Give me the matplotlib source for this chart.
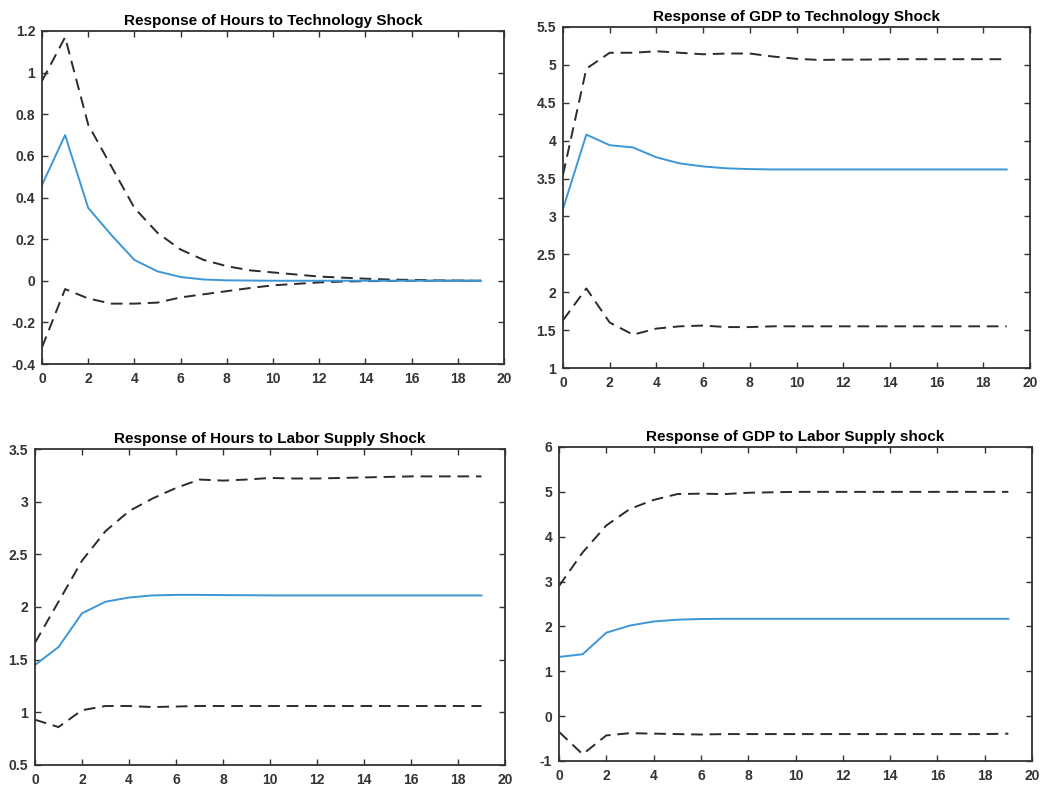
import matplotlib.pyplot as plt
import numpy as np

plt.rcParams["font.family"] = ["Liberation Sans", "DejaVu Sans"]

periods = np.arange(20)

hours_tech_mid = [0.46, 0.70, 0.35, 0.22, 0.10, 0.045, 0.018, 0.006, 0.002, 0.001,
                  0.0, 0.0, 0.0, 0.0, 0.0, 0.0, 0.0, 0.0, 0.0, 0.0]
hours_tech_hi = [0.96, 1.17, 0.75, 0.55, 0.35, 0.23, 0.15, 0.10, 0.07, 0.05,
                 0.04, 0.03, 0.02, 0.015, 0.01, 0.006, 0.004, 0.002, 0.001, 0.0]
hours_tech_lo = [-0.32, -0.04, -0.085, -0.11, -0.11, -0.105, -0.08, -0.065, -0.05, -0.035,
                 -0.022, -0.015, -0.008, -0.004, -0.002, -0.001, 0.0, 0.0, 0.0, 0.0]

gdp_tech_mid = [3.10, 4.08, 3.94, 3.91, 3.78, 3.70, 3.66, 3.635, 3.625, 3.62,
                3.62, 3.62, 3.62, 3.62, 3.62, 3.62, 3.62, 3.62, 3.62, 3.62]
gdp_tech_hi = [3.55, 4.95, 5.16, 5.16, 5.18, 5.16, 5.14, 5.15, 5.15, 5.11,
               5.08, 5.065, 5.07, 5.07, 5.075, 5.075, 5.075, 5.075, 5.075, 5.075]
gdp_tech_lo = [1.63, 2.05, 1.60, 1.44, 1.52, 1.55, 1.56, 1.54, 1.54, 1.55,
               1.55, 1.55, 1.55, 1.55, 1.55, 1.55, 1.55, 1.55, 1.55, 1.55]

hours_labor_mid = [1.45, 1.62, 1.94, 2.05, 2.09, 2.11, 2.115, 2.115, 2.113, 2.112,
                   2.11, 2.11, 2.11, 2.11, 2.11, 2.11, 2.11, 2.11, 2.11, 2.11]
hours_labor_hi = [1.66, 2.05, 2.44, 2.72, 2.91, 3.03, 3.13, 3.21, 3.20, 3.21,
                  3.225, 3.22, 3.22, 3.225, 3.23, 3.235, 3.24, 3.24, 3.24, 3.24]
hours_labor_lo = [0.93, 0.86, 1.02, 1.06, 1.06, 1.05, 1.055, 1.06, 1.06, 1.06,
                  1.06, 1.06, 1.06, 1.06, 1.06, 1.06, 1.06, 1.06, 1.06, 1.06]

gdp_labor_mid = [1.32, 1.38, 1.86, 2.02, 2.11, 2.15, 2.165, 2.17, 2.17, 2.17,
                 2.17, 2.17, 2.17, 2.17, 2.17, 2.17, 2.17, 2.17, 2.17, 2.17]
gdp_labor_hi = [2.90, 3.65, 4.25, 4.62, 4.82, 4.95, 4.96, 4.95, 4.98, 4.99,
                5.0, 5.0, 5.0, 5.0, 5.0, 5.0, 5.0, 5.0, 5.0, 5.0]
gdp_labor_lo = [-0.35, -0.85, -0.43, -0.38, -0.39, -0.40, -0.41, -0.40, -0.40, -0.40,
                -0.40, -0.40, -0.40, -0.40, -0.40, -0.40, -0.40, -0.40, -0.40, -0.39]

panels = [
    ("Response of Hours to Technology Shock", hours_tech_mid, hours_tech_hi, hours_tech_lo,
     (-0.4, 1.2), np.arange(-0.4, 1.21, 0.2), [42, 31, 504, 364]),
    ("Response of GDP to Technology Shock", gdp_tech_mid, gdp_tech_hi, gdp_tech_lo,
     (1, 5.5), np.arange(1, 5.51, 0.5), [563, 27, 1030, 368]),
    ("Response of Hours to Labor Supply Shock", hours_labor_mid, hours_labor_hi, hours_labor_lo,
     (0.5, 3.5), np.arange(0.5, 3.51, 0.5), [35, 449, 505, 765]),
    ("Response of GDP to Labor Supply shock", gdp_labor_mid, gdp_labor_hi, gdp_labor_lo,
     (-1, 6), np.arange(-1, 6.1, 1), [559, 447, 1032, 761]),
]

W, H = 1044, 787
fig = plt.figure(figsize=(W / 100, H / 100), dpi=100)

for title, mid, hi, lo, ylim, yticks, (x0, y0, x1, y1) in panels:
    ax = fig.add_axes([x0 / W, 1 - y1 / H, (x1 - x0) / W, (y1 - y0) / H])
    ax.plot(periods, hi, "--", color="#2b2b2b", lw=1.4, dashes=(6, 3.5))
    ax.plot(periods, lo, "--", color="#2b2b2b", lw=1.4, dashes=(6, 3.5))
    ax.plot(periods, mid, "-", color="#3d97d6", lw=1.4)
    ax.set_xlim(0, 20)
    ax.set_ylim(*ylim)
    ax.set_xticks(np.arange(0, 21, 2))
    ax.set_yticks(yticks)
    ax.set_yticklabels([f"{v:g}" for v in yticks])
    ax.tick_params(direction="in", top=True, right=True, length=4, width=1,
                   labelsize=10, colors="#333333")
    ax.tick_params(axis="x", pad=6)
    ax.tick_params(axis="y", pad=5)
    for lab in ax.get_xticklabels() + ax.get_yticklabels():
        lab.set_fontweight("bold")
    for sp in ax.spines.values():
        sp.set_color("#333333")
        sp.set_linewidth(1.3)
    ax.set_title(title, fontsize=11, fontweight="bold", pad=4)

fig.savefig("out.png", dpi=100)
